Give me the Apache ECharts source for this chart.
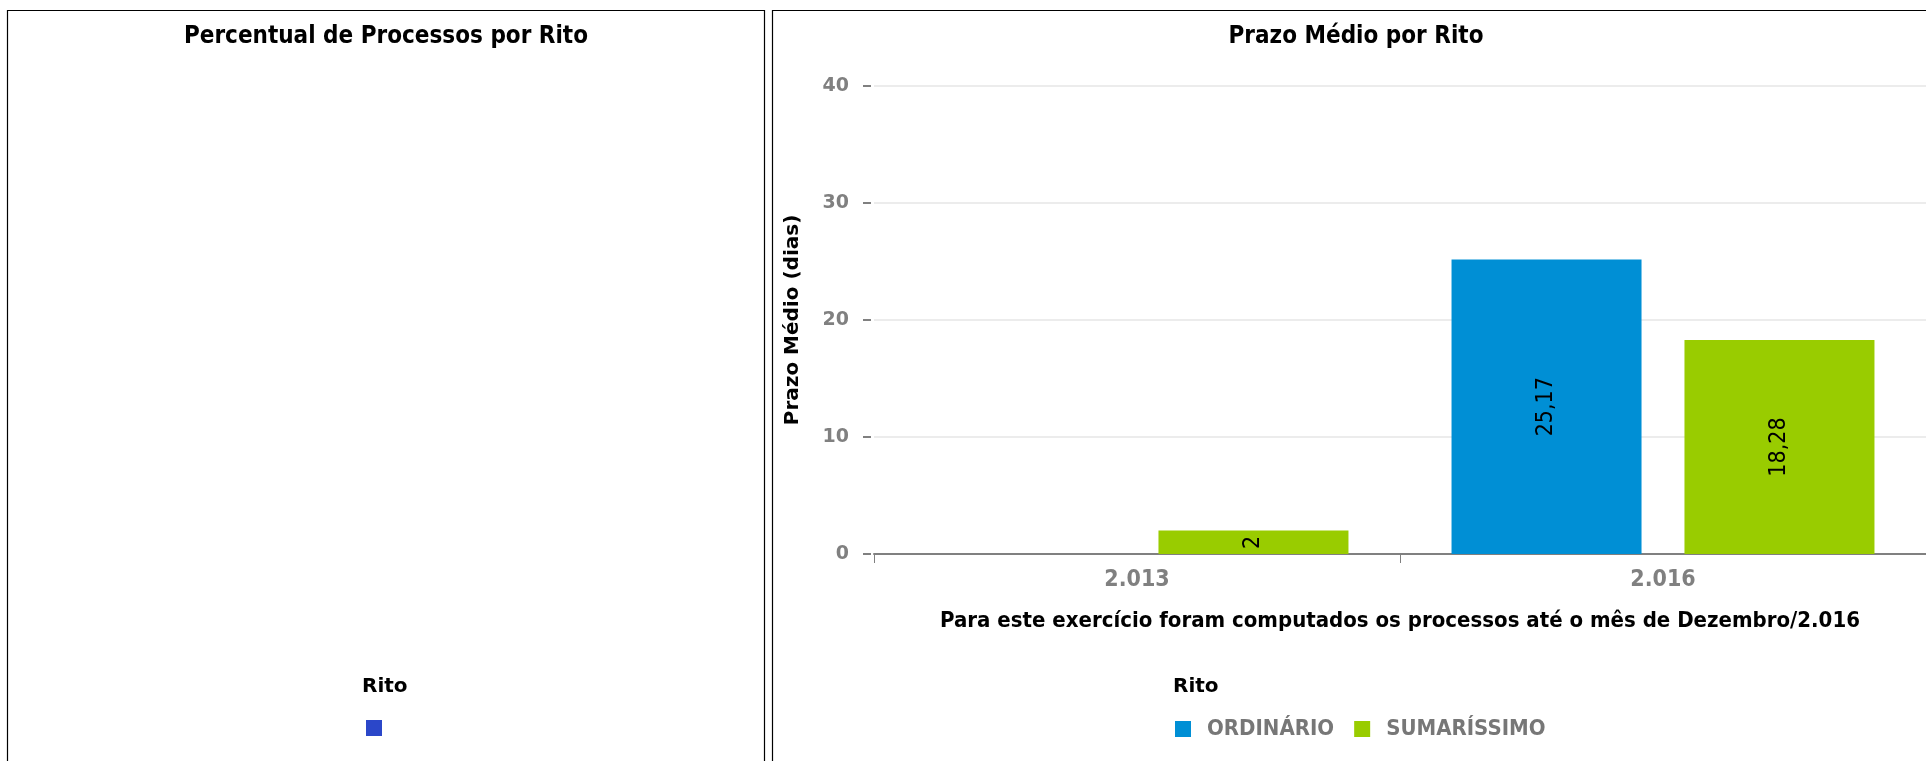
<!DOCTYPE html>
<html>
<head>
<meta charset="utf-8">
<script src="https://cdn.jsdelivr.net/npm/echarts@6/dist/echarts.min.js"></script>
<style>
  html, body { margin: 0; padding: 0; background: #fff; overflow: hidden; }
  #chart { width: 1926px; height: 761px; }
</style>
</head>
<body>
<div id="chart"></div>
<script>
// data
const years = ['2.013', '2.016']
const ordinario = [null, 25.17]
const sumarissimo = [2, 18.28]
const ritoShare = [{ name: ' ', value: 0 }]
const leftTitle = 'Percentual de Processos por Rito'
const rightTitle = 'Prazo Médio por Rito'
const footNote = 'Para este exercício foram computados os processos até o mês de Dezembro/2.016'

const narrow = '"DejaVu Sans Condensed", "DejaVu Sans", sans-serif'
const wide = '"DejaVu Sans", sans-serif'
const blue = '#008fd5'
const green = '#99cc00'
const grey = '#808080'

const chart = echarts.init(document.getElementById('chart'), null, { renderer: 'canvas' })

const commaLabel = (p) => String(p.value).replace('.', ',')

chart.setOption({
  animation: false,
  backgroundColor: '#fff',
  graphic: [
    { type: 'rect', shape: { x: 7.5, y: 10.5, width: 757, height: 800 }, style: { fill: 'none', stroke: '#000', lineWidth: 1.2 }, silent: true },
    { type: 'rect', shape: { x: 772.5, y: 10.5, width: 1200, height: 800 }, style: { fill: 'none', stroke: '#000', lineWidth: 1.2 }, silent: true },
  ],
  title: [
    { text: leftTitle, left: 386, top: 25, textAlign: 'center', padding: 0,
      textStyle: { fontFamily: narrow, fontSize: 24, fontWeight: 'bold', color: '#000' } },
    { text: rightTitle, left: 1356, top: 25, textAlign: 'center', padding: 0,
      textStyle: { fontFamily: narrow, fontSize: 24, fontWeight: 'bold', color: '#000' } },
    { text: 'Rito', left: 362, top: 677, padding: 0,
      textStyle: { fontFamily: wide, fontSize: 20, fontWeight: 'bold', color: '#000' } },
    { text: 'Rito', left: 1173, top: 677, padding: 0,
      textStyle: { fontFamily: wide, fontSize: 20, fontWeight: 'bold', color: '#000' } },
  ],
  legend: [
    {
      data: ritoShare.map((d) => d.name),
      left: 366, top: 719, padding: 0,
      icon: 'rect', itemWidth: 16, itemHeight: 16,
      textStyle: { fontSize: 18 },
      selectedMode: false,
    },
    {
      data: ['ORDINÁRIO', 'SUMARÍSSIMO'],
      left: 1175, top: 718, padding: 0,
      icon: 'rect', itemWidth: 16, itemHeight: 16, itemGap: 20,
      selectedMode: false,
      textStyle: { fontFamily: narrow, fontSize: 22, fontWeight: 'bold', color: '#777', padding: [0, 0, 0, 11] },
    },
  ],
  grid: { left: 874, top: 86, width: 1059, height: 468, containLabel: false },
  xAxis: {
    type: 'category',
    data: years,
    name: footNote,
    nameLocation: 'middle',
    nameGap: 56,
    nameTextStyle: { fontFamily: narrow, fontSize: 22, fontWeight: 'bold', color: '#000' },
    axisLine: { lineStyle: { color: grey, width: 2 } },
    axisTick: { show: true, length: 9, lineStyle: { color: grey, width: 1 } },
    axisLabel: { margin: 15, fontFamily: narrow, fontSize: 23, fontWeight: 'bold', color: grey },
    splitLine: { show: false },
  },
  yAxis: {
    type: 'value',
    min: 0, max: 40, interval: 10,
    offset: 3,
    name: 'Prazo Médio (dias)',
    nameLocation: 'middle',
    nameGap: 68,
    nameTextStyle: { fontFamily: wide, fontSize: 20, fontWeight: 'bold', color: '#000' },
    axisLine: { show: false },
    axisTick: { show: true, length: 8, lineStyle: { color: grey, width: 2 } },
    axisLabel: { margin: 22, fontFamily: wide, fontSize: 19, fontWeight: 'bold', color: grey },
    splitLine: { lineStyle: { color: '#e6e6e6', width: 1.5 } },
  },
  series: [
    {
      type: 'pie',
      name: 'Rito',
      center: [386, 380],
      radius: [0, 200],
      data: ritoShare,
      stillShowZeroSum: false,
      label: { show: false },
      labelLine: { show: false },
      itemStyle: { color: '#2b47c9' },
    },
    {
      name: 'ORDINÁRIO',
      type: 'bar',
      data: ordinario,
      barWidth: 190,
      barGap: '22.6%',
      itemStyle: { color: blue },
      label: { show: true, position: 'inside', rotate: 90, formatter: commaLabel,
        fontFamily: narrow, fontSize: 23, color: '#000' },
    },
    {
      name: 'SUMARÍSSIMO',
      type: 'bar',
      data: sumarissimo,
      barWidth: 190,
      barGap: '22.6%',
      itemStyle: { color: green },
      label: { show: true, position: 'inside', rotate: 90, formatter: commaLabel,
        fontFamily: narrow, fontSize: 23, color: '#000' },
    },
  ],
})
</script>
</body>
</html>
